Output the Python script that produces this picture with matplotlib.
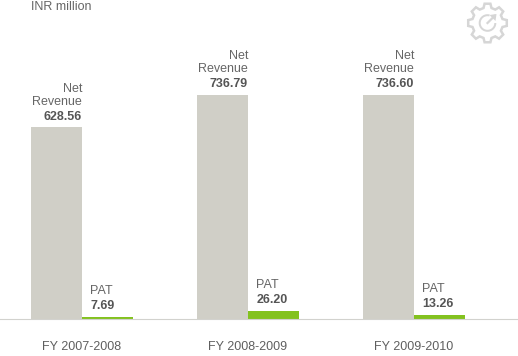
import numpy as np
import matplotlib
matplotlib.use('Agg')
import matplotlib.pyplot as plt
from matplotlib.patches import Polygon, Wedge

years = ['FY 2007-2008', 'FY 2008-2009', 'FY 2009-2010']
net_revenue = [628.56, 736.79, 736.60]
pat = [7.69, 26.20, 13.26]

plt.rcParams['font.family'] = ['Liberation Sans', 'DejaVu Sans']

W, H = 518, 356
fig = plt.figure(figsize=(W / 100, H / 100), dpi=100)
ax = fig.add_axes([0, (H - 319) / H, 1, 319 / H])

# 166 px between groups, bars 51 px wide
group = 166.0
bar_w = 51 / group
x = np.arange(len(years))
ax.set_xlim(-82 / group, (W - 82) / group)
ax.set_ylim(0, 319 / 0.3047)

ax.bar(x - bar_w / 2, net_revenue, bar_w, color='#d0cfc7')
ax.bar(x + bar_w / 2, pat, bar_w, color='#83c21f')

for s in ['top', 'left', 'right']:
    ax.spines[s].set_visible(False)
ax.spines['bottom'].set_color('#d2d2ce')
ax.spines['bottom'].set_linewidth(0.8)
ax.set_yticks([])
ax.set_xticks(x)
ax.set_xticklabels(years, fontsize=9, color='#5f5f5f')
ax.tick_params(axis='x', length=0, pad=16)

grey = '#666666'
dark = '#555555'
for i in x:
    # net revenue label sits right aligned over the tall bar
    ax.annotate(f'{net_revenue[i]:.2f}', (i, net_revenue[i]), xytext=(0, 3.4),
                textcoords='offset points', ha='right', va='bottom',
                fontsize=9, fontweight='bold', color=dark)
    ax.annotate('Net\nRevenue', (i, net_revenue[i]), xytext=(0, 14.1),
                textcoords='offset points', ha='right', va='bottom',
                fontsize=9, color=grey, linespacing=1.08)
    ax.annotate(f'{pat[i]:.2f}', (i, pat[i]), xytext=(6, 3.4),
                textcoords='offset points', ha='left', va='bottom',
                fontsize=9, fontweight='bold', color=dark)
    ax.annotate('PAT', (i, pat[i]), xytext=(6, 14.4),
                textcoords='offset points', ha='left', va='bottom',
                fontsize=9, color=grey)

fig.text(31 / W, 1 - 6.5 / H, 'INR million', fontsize=9, color=grey, ha='left', va='center')

# gear icon top right, in pixel coords
icon = fig.add_axes([0, 0, 1, 1], facecolor='none')
icon.set_xlim(0, W)
icon.set_ylim(H, 0)
icon.axis('off')
cx, cy = 487.5, 23
n_teeth = 8
pts = []
for k in range(n_teeth):
    a = 2 * np.pi * k / n_teeth - np.pi / 2
    for da, r in [(-0.26, 15.5), (-0.15, 19.5), (0.15, 19.5), (0.26, 15.5)]:
        pts.append((cx + r * np.cos(a + da), cy + r * np.sin(a + da)))
icon_col = '#d6d6d6'
icon.add_patch(Polygon(pts, closed=True, fill=False, edgecolor=icon_col, linewidth=1.8))
icon.add_patch(Wedge((cx, cy), 8.8, 0, 285, width=2, facecolor=icon_col, edgecolor='none'))
icon.plot([cx, cx + 7], [cy, cy - 7], color=icon_col, linewidth=1.6)
icon.add_patch(Polygon([(cx + 2, cy - 8), (cx + 9, cy - 9), (cx + 8, cy - 2)], closed=True,
                       facecolor=icon_col, edgecolor='none'))
icon.set_xlim(0, W)
icon.set_ylim(H, 0)

fig.savefig('out.png', dpi=100)
